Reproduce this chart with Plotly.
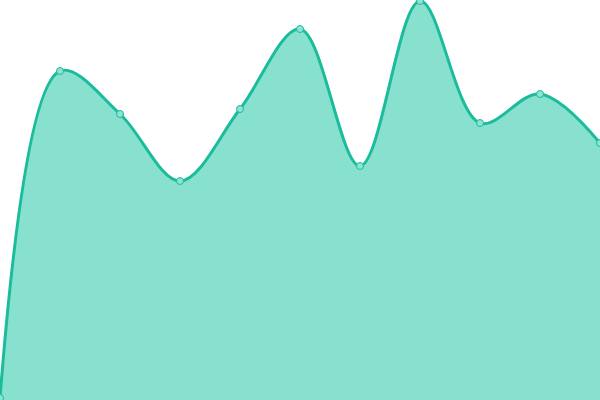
import plotly.graph_objects as go

x_vals = [0, 1, 2, 3, 4, 5, 6, 7, 8, 9, 10]
y_vals = [2, 329, 286, 219, 291, 371, 234, 399, 277, 306, 257]

line_color = "#1abc9c"
fill_color = "#88e0cf"

fig = go.Figure()
fig.add_trace(go.Scatter(
    x=x_vals, y=y_vals,
    mode="lines+markers",
    line={"color": line_color, "width": 3, "shape": "spline", "smoothing": 1},
    fill="tozeroy",
    fillcolor=fill_color,
    marker={"size": 7, "color": "#8fe3d2", "line": {"color": line_color, "width": 1}},
    showlegend=False,
))

fig.update_layout(
    width=600, height=400,
    margin={"l": 0, "r": 0, "t": 0, "b": 0},
    plot_bgcolor="white", paper_bgcolor="white",
    xaxis={"visible": False, "range": [0, 10]},
    yaxis={"visible": False, "range": [0, 400]},
)

# drop the page margin so the 600x400 figure fills the window
fig.write_html("out.html", config={"displayModeBar": False},
               post_script="document.body.style.margin='0';")
